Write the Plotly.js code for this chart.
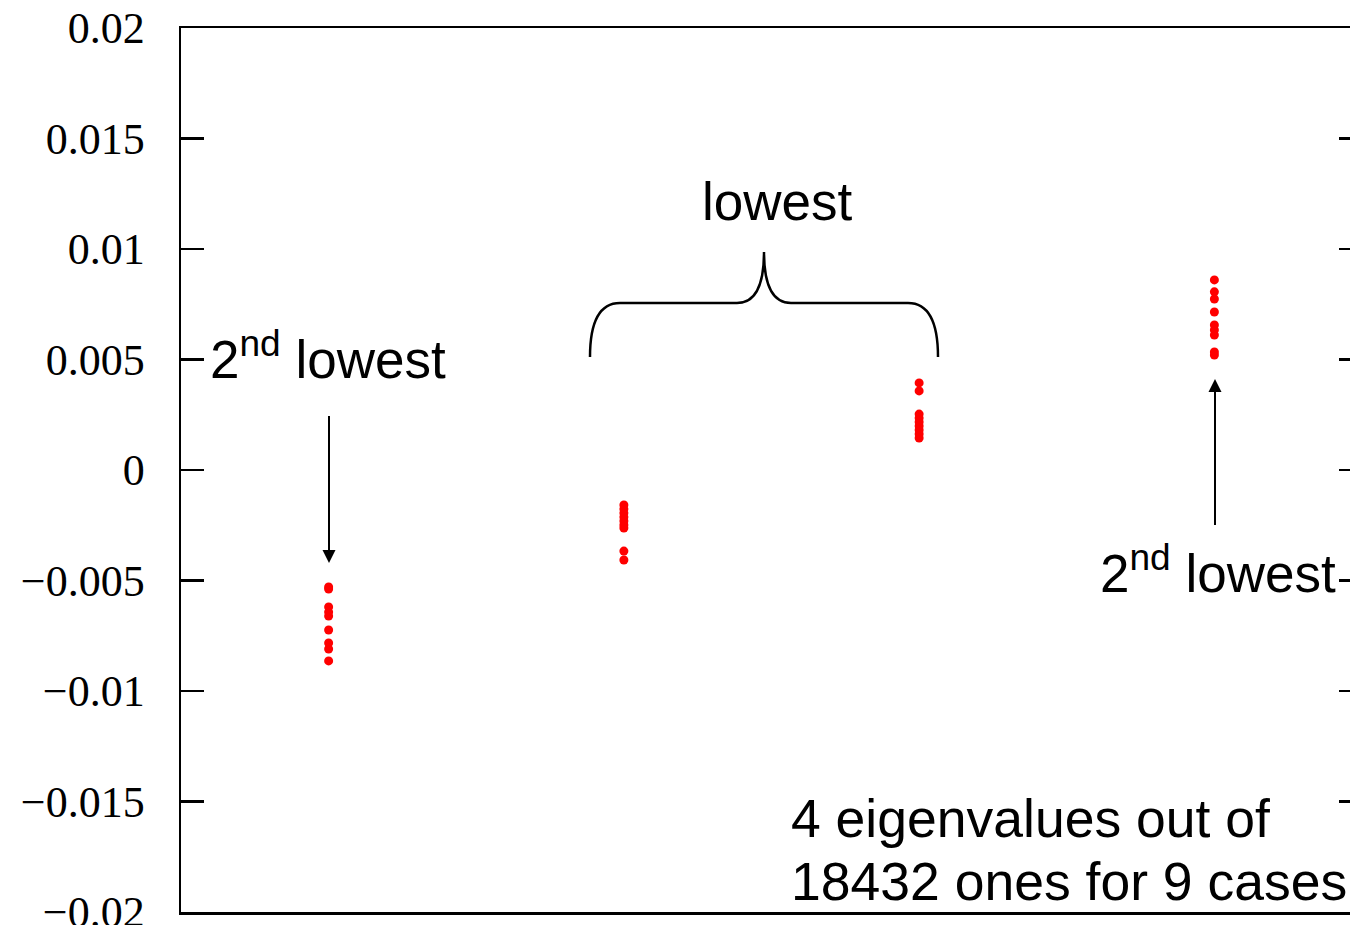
<!DOCTYPE html>
<html>
<head>
<meta charset="utf-8">
<script src="https://cdn.plot.ly/plotly-3.0.1.min.js"></script>
<style>
  html, body { margin: 0; padding: 0; background: #fff; overflow: hidden; }
  #chart { width: 1380px; height: 960px; }
</style>
</head>
<body>
<div id="chart"></div>
<script>
// ---- data ----
const groupX = [1, 2, 3, 4];
const groupLabels = ["2nd lowest (negative)", "lowest (negative)", "lowest (positive)", "2nd lowest (positive)"];
const secondLowestNeg = [-0.00529, -0.00539, -0.00620, -0.00643, -0.00661, -0.00724, -0.00783, -0.00810, -0.00864];
const lowestNeg       = [-0.00158, -0.00177, -0.00195, -0.00213, -0.00231, -0.00249, -0.00263, -0.00367, -0.00407];
const lowestPos       = [0.00394, 0.00358, 0.00253, 0.00235, 0.00217, 0.00199, 0.00181, 0.00163, 0.00145];
const secondLowestPos = [0.00860, 0.00806, 0.00774, 0.00715, 0.00656, 0.00634, 0.00611, 0.00534, 0.00520];
const yTickVals = [0.02, 0.015, 0.01, 0.005, 0, -0.005, -0.01, -0.015, -0.02];
const yTickText = ["0.02", "0.015", "0.01", "0.005", "0", "\u22120.005", "\u22120.01", "\u22120.015", "\u22120.02"];

const groups = [secondLowestNeg, lowestNeg, lowestPos, secondLowestPos];

// ---- geometry helpers for annotations (plot area 181..1362 x 28..912) ----
const W = 1380, H = 960;
const xRange = [0.5, 4.5], yRange = [-0.02, 0.02];
const L = 181, R = 1362, T = 28, B = 912;
function dx(px) { return xRange[0] + (px - L) / (R - L) * (xRange[1] - xRange[0]); }
function dy(py) { return yRange[1] - (py - T) / (B - T) * (yRange[1] - yRange[0]); }

const traces = groups.map((vals, i) => ({
  type: "scatter",
  mode: "markers",
  name: groupLabels[i],
  x: vals.map(() => groupX[i]),
  y: vals,
  marker: { color: "#ff0000", size: 9 },
  hoverinfo: "x+y"
}));

const sansFont = { family: "Liberation Sans, Arial, sans-serif", size: 53, color: "#000" };

const annotations = [
  { text: "2<sup>nd</sup> lowest", x: dx(208), y: dy(355), xanchor: "left", yanchor: "middle", showarrow: false, font: sansFont },
  { text: "lowest", x: dx(777), y: dy(201), xanchor: "center", yanchor: "middle", showarrow: false, font: sansFont },
  { text: "2<sup>nd</sup> lowest", x: dx(1098), y: dy(569), xanchor: "left", yanchor: "middle", showarrow: false, font: sansFont },
  { text: "4 eigenvalues out of", x: dx(789), y: dy(818), xanchor: "left", yanchor: "middle", showarrow: false, font: { family: sansFont.family, size: 53.5, color: "#000" } },
  { text: "18432 ones for 9 cases", x: dx(789), y: dy(881), xanchor: "left", yanchor: "middle", showarrow: false, font: { family: sansFont.family, size: 53.5, color: "#000" } },
  // arrows
  { text: " ", x: dx(329), y: dy(563), ax: 0, ay: -157, showarrow: true, arrowhead: 2, arrowsize: 1.3, arrowwidth: 2, arrowcolor: "#000", standoff: 0 },
  { text: " ", x: dx(1215), y: dy(379), ax: 0, ay: 156, showarrow: true, arrowhead: 2, arrowsize: 1.3, arrowwidth: 2, arrowcolor: "#000", standoff: 0 }
].map(a => Object.assign({ xref: "x", yref: "y" }, a));

// curly brace over the two "lowest" groups
function P(px, py) { return dx(px) + "," + dy(py); }
const bracePath =
  "M" + P(590, 357) +
  " Q" + P(590, 303) + " " + P(620, 303) +
  " L" + P(737, 303) +
  " Q" + P(764, 303) + " " + P(764, 252) +
  " Q" + P(764, 303) + " " + P(791, 303) +
  " L" + P(908, 303) +
  " Q" + P(938, 303) + " " + P(938, 357);

const layout = {
  width: W,
  height: H,
  margin: { l: L, r: W - R, t: T, b: H - B, pad: 0 },
  paper_bgcolor: "#fff",
  plot_bgcolor: "#fff",
  showlegend: false,
  xaxis: {
    range: xRange, showline: true, mirror: true, linecolor: "#000", linewidth: 2.5,
    showgrid: false, zeroline: false, showticklabels: false, ticks: ""
  },
  yaxis: {
    range: yRange, showline: true, mirror: "ticks", linecolor: "#000", linewidth: 2.5,
    showgrid: false, zeroline: false,
    tickmode: "array", tickvals: yTickVals, ticktext: yTickText,
    ticks: "inside", ticklen: 23, tickwidth: 2.5, tickcolor: "#000",
    ticklabelstandoff: 25,
    tickfont: { family: "Liberation Serif, Times New Roman, serif", size: 44, color: "#000" }
  },
  shapes: [
    { type: "path", xref: "x", yref: "y", path: bracePath, line: { color: "#000", width: 2.5 } }
  ],
  annotations: annotations
};

Plotly.newPlot("chart", traces, layout, { displayModeBar: false, staticPlot: true });
</script>
</body>
</html>
